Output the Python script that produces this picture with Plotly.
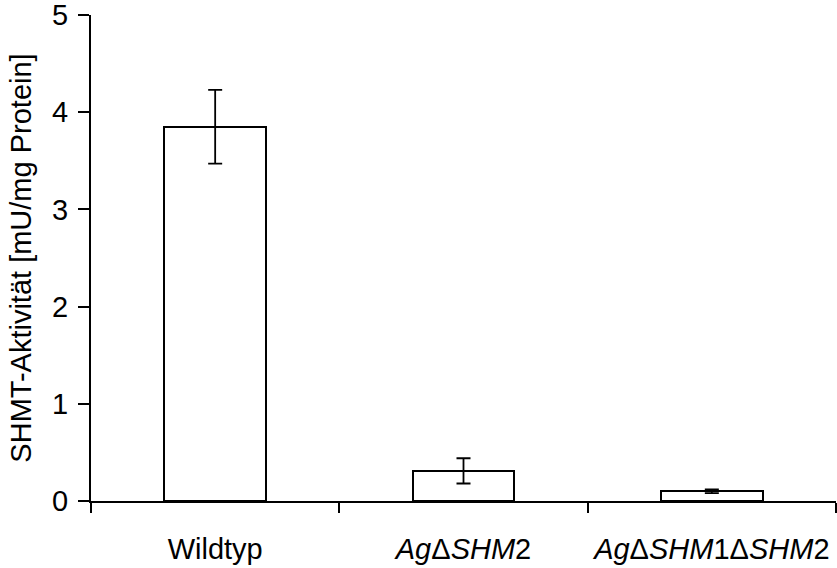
import plotly.graph_objects as go

categories = ["Wildtyp", "<i>Ag</i>Δ<i>SHM</i>2", "<i>Ag</i>Δ<i>SHM</i>1Δ<i>SHM</i>2"]
values = [3.85, 0.31, 0.10]
errors = [0.38, 0.13, 0.02]
y_ticks = [0, 1, 2, 3, 4, 5]

FONT = "Liberation Sans, Arial, sans-serif"

fig = go.Figure()
fig.add_trace(go.Bar(
    x=categories, y=values,
    width=0.41,
    marker=dict(color="white", line=dict(color="black", width=2)),
    error_y=dict(type="data", array=errors, visible=True, color="black", thickness=1.8, width=7),
))

fig.update_layout(
    width=837, height=568,
    margin=dict(l=91, r=1, t=15, b=67),
    paper_bgcolor="white", plot_bgcolor="white",
    showlegend=False,
    font=dict(family=FONT, color="black"),
    bargap=0,
)
fig.update_xaxes(
    type="category",
    range=[-0.5, 2.5],
    automargin=False,
    showline=True, linecolor="black", linewidth=2,
    ticks="outside", ticklen=10, tickwidth=2, tickcolor="black",
    tickson="boundaries",
    showgrid=False, zeroline=False,
    tickfont=dict(size=29, family=FONT),
    ticklabelstandoff=21,
)
fig.update_yaxes(
    range=[0, 5],
    tickvals=y_ticks,
    automargin=False,
    showline=True, linecolor="black", linewidth=2,
    ticks="outside", ticklen=11, tickwidth=2, tickcolor="black",
    showgrid=False, zeroline=False,
    tickfont=dict(size=29, family=FONT),
    ticklabelstandoff=4,
    ticklabeloverflow="allow",
    title=dict(text="SHMT-Aktivität [mU/mg Protein]", font=dict(size=29, family=FONT), standoff=12),
)

fig.write_html(
    "out.html",
    config={"displayModeBar": False},
    post_script="document.body.style.margin='0';",
)
